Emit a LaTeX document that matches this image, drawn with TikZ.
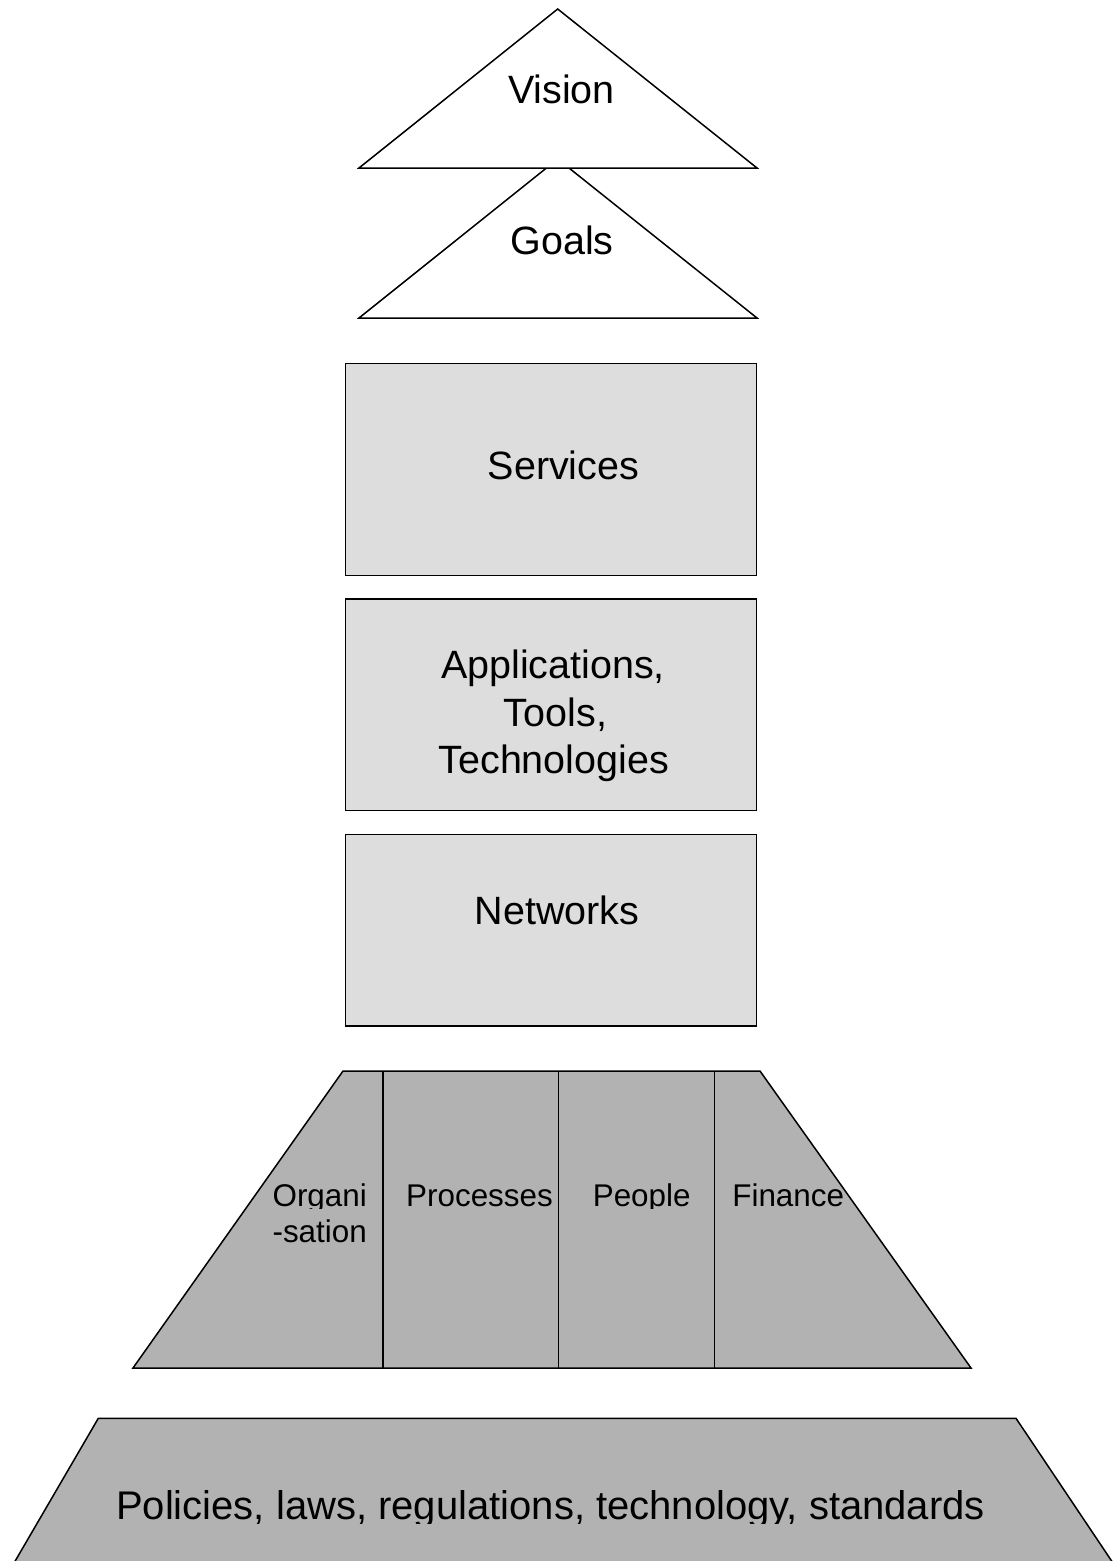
\documentclass[tikz,border=0pt]{standalone}
\usepackage{fontspec}
\setmainfont{Liberation Sans}
\definecolor{boxgray}{RGB}{221,221,221}
\definecolor{trapgray}{RGB}{178,178,178}
\begin{document}
\begin{tikzpicture}[x=1pt,y=-1pt,
  edge/.style={draw=black,line width=1.5pt,line join=miter},
  whiteshape/.style={edge,fill=white},
  lightbox/.style={edge,fill=boxgray},
  darkshape/.style={edge,fill=trapgray},
  divider/.style={draw=black,line width=1.5pt},
  big/.style={inner sep=0pt,anchor=base,font=\fontsize{39.5}{47.4}\selectfont},
  bottomtext/.style={inner sep=0pt,anchor=base,font=\fontsize{40}{48}\selectfont},
  small/.style={inner sep=0pt,anchor=base,font=\fontsize{31.4}{37.7}\selectfont}]
\useasboundingbox (0,0) rectangle (1112,1561);
\fill[white] (0,0) rectangle (1112,1561);
% triangles
\path[whiteshape] (557.7,159) -- (757,318) -- (359,318) -- cycle;
\path[whiteshape] (557.7,9) -- (757,168) -- (359,168) -- cycle;
\node[big] (vision) at (561.5,103) {Vision};
\node[big] (goals) at (562,254) {Goals};
% boxes
\path[lightbox] (345.5,363.5) rectangle (756.5,575.5);
\node[big] (services) at (563.5,479) {Services};
\path[lightbox] (345.5,599) rectangle (756.5,810.5);
\node[big] (apps1) at (553,678.3) {Applications,};
\node[big] (apps2) at (555.5,726) {Tools,};
\node[big] (apps3) at (553.8,773.3) {Technologies};
\path[lightbox] (345.5,834.5) rectangle (756.5,1026);
\node[big] (networks) at (557,924) {Networks};
% middle trapezoid
\path[darkshape] (343,1071) -- (760,1071) -- (971,1368) -- (133,1368) -- cycle;
\coordinate (d1t) at (383,1071); \coordinate (d1b) at (383,1368);
\coordinate (d2t) at (558.5,1071); \coordinate (d2b) at (558.5,1368);
\coordinate (d3t) at (714.3,1071); \coordinate (d3b) at (714.3,1368);
\draw[divider] (d1t) -- (d1b);
\draw[divider] (d2t) -- (d2b);
\draw[divider] (d3t) -- (d3b);
\begin{scope}
\clip (0,0) rectangle (1112,1208.5);
\node[small] (org1) at (319.7,1206) {Organi};
\node[small] (proc) at (479.5,1206) {Processes};
\node[small] (people) at (641.7,1206) {People};
\node[small] (fin) at (788.2,1206) {Finance};
\end{scope}
\node[small] (org2) at (319.7,1242) {-sation};
% bottom trapezoid
\path[darkshape] (98.3,1418.3) -- (1016,1418.3) -- (1113,1563) -- (14,1563) -- cycle;
\begin{scope}
\clip (0,0) rectangle (1112,1523);
\node[bottomtext] (policies) at (550.5,1519.3) {Policies, laws, regulations, technology, standards};
\end{scope}
\end{tikzpicture}
\end{document}
